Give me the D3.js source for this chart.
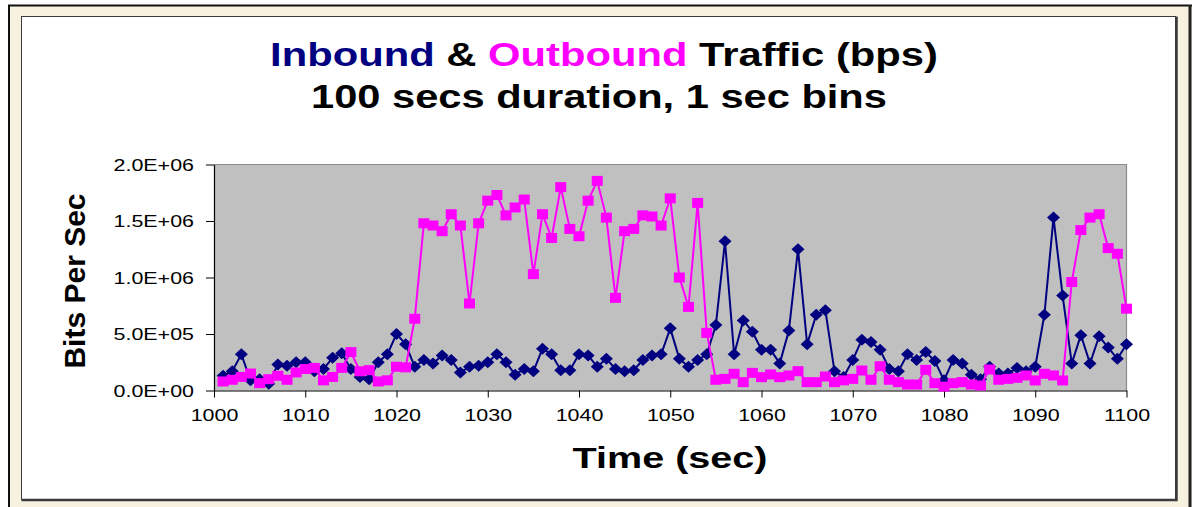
<!DOCTYPE html>
<html>
<head>
<meta charset="utf-8">
<script src="https://cdn.jsdelivr.net/npm/d3@7"></script>
<style>
  html, body { margin: 0; padding: 0; background: #fff; }
  svg { display: block; }
  text { font-family: Arial, "Liberation Sans", sans-serif; }
</style>
</head>
<body>
<svg id="chart" width="1192" height="507"></svg>
<script>
// Time of each 1-second bin
const seconds = d3.range(1001, 1101);

// Inbound traffic, bits per second
const inbound = [
  1.3e5, 1.7e5, 3.2e5, 0.9e5, 1.0e5, 0.6e5, 2.3e5, 2.2e5, 2.5e5, 2.5e5,
  1.7e5, 1.9e5, 2.9e5, 3.3e5, 1.9e5, 1.2e5, 1.0e5, 2.5e5, 3.2e5, 5.0e5,
  4.1e5, 2.1e5, 2.7e5, 2.4e5, 3.1e5, 2.7e5, 1.6e5, 2.1e5, 2.2e5, 2.5e5,
  3.2e5, 2.5e5, 1.4e5, 1.9e5, 1.7e5, 3.7e5, 3.2e5, 1.8e5, 1.8e5, 3.2e5,
  3.1e5, 2.1e5, 2.8e5, 1.9e5, 1.7e5, 1.8e5, 2.7e5, 3.1e5, 3.2e5, 5.5e5,
  2.8e5, 2.1e5, 2.7e5, 3.2e5, 5.8e5, 1.32e6, 3.2e5, 6.2e5, 5.2e5, 3.6e5,
  3.6e5, 2.4e5, 5.3e5, 1.25e6, 4.1e5, 6.7e5, 7.1e5, 1.7e5, 1.2e5, 2.7e5,
  4.5e5, 4.3e5, 3.6e5, 1.9e5, 1.7e5, 3.2e5, 2.7e5, 3.4e5, 2.6e5, 0.9e5,
  2.7e5, 2.4e5, 1.4e5, 1.0e5, 2.1e5, 1.5e5, 1.5e5, 2.0e5, 1.7e5, 2.1e5,
  6.7e5, 1.53e6, 8.4e5, 2.4e5, 4.9e5, 2.4e5, 4.8e5, 3.8e5, 2.8e5, 4.1e5
];

// Outbound traffic, bits per second
const outbound = [
  0.8e5, 0.95e5, 1.2e5, 1.5e5, 0.65e5, 1.0e5, 1.3e5, 0.95e5, 1.6e5, 1.9e5,
  2.0e5, 0.9e5, 1.2e5, 2.0e5, 3.4e5, 1.7e5, 1.8e5, 0.8e5, 0.9e5, 2.1e5,
  2.05e5, 6.35e5, 1.48e6, 1.46e6, 1.41e6, 1.56e6, 1.46e6, 7.7e5, 1.48e6, 1.68e6,
  1.73e6, 1.55e6, 1.62e6, 1.69e6, 1.03e6, 1.56e6, 1.35e6, 1.80e6, 1.43e6, 1.365e6,
  1.68e6, 1.855e6, 1.53e6, 8.2e5, 1.41e6, 1.43e6, 1.55e6, 1.54e6, 1.46e6, 1.70e6,
  1.0e6, 7.4e5, 1.66e6, 5.1e5, 0.95e5, 1.03e5, 1.48e5, 0.74e5, 1.56e5, 1.18e5,
  1.42e5, 1.18e5, 1.33e5, 1.71e5, 0.74e5, 0.74e5, 1.24e5, 0.74e5, 0.9e5, 1.03e5,
  1.77e5, 0.95e5, 2.15e5, 0.95e5, 0.74e5, 0.53e5, 0.53e5, 1.83e5, 0.65e5, 0.35e5,
  0.65e5, 0.74e5, 0.53e5, 0.44e5, 1.86e5, 0.95e5, 1.03e5, 1.12e5, 1.33e5, 0.89e5,
  1.48e5, 1.33e5, 0.89e5, 9.6e5, 1.42e6, 1.53e6, 1.56e6, 1.26e6, 1.21e6, 7.24e5
];

const xTickValues = d3.range(1000, 1101, 10);
const yTickValues = [0, 5e5, 1e6, 1.5e6, 2e6];

const titleParts = [
  { text: "Inbound", color: "#000080" },
  { text: " & ", color: "#000000" },
  { text: "Outbound", color: "#ff00ff" },
  { text: " Traffic (bps)", color: "#000000" }
];
const subtitle = "100 secs duration, 1 sec bins";
const xTitle = "Time (sec)";
const yTitle = "Bits Per Sec";

const W = 1192, H = 507;
const plot = { left: 214, right: 1126.5, top: 164.5, bottom: 390.5 };
const svg = d3.select("#chart");

// ---- slide frame ----
svg.append("rect").attr("width", W).attr("height", H).attr("fill", "#ffffff");
svg.append("rect").attr("x", 9).attr("y", 5).attr("width", W - 9).attr("height", H - 5)
  .attr("fill", "#f7f1df");
svg.append("path").attr("d", `M9,${H} V5.5 H${W}`)
  .attr("fill", "none").attr("stroke", "#111").attr("stroke-width", 2);
svg.append("line").attr("x1", 1190).attr("x2", 1190).attr("y1", 5).attr("y2", H)
  .attr("stroke", "#222").attr("stroke-width", 3);

// white chart panel with a darker lower/right edge
svg.append("rect").attr("x", 21.5).attr("y", 16.5).attr("width", 1154).attr("height", 483)
  .attr("fill", "#ffffff").attr("stroke", "#3a3a3a").attr("stroke-width", 1);
svg.append("path").attr("d", "M21.5,500 H1176.5 V16.5")
  .attr("fill", "none").attr("stroke", "#3a3a3a").attr("stroke-width", 2.5);

// ---- scales ----
const x = d3.scaleLinear().domain([1000, 1100]).range([plot.left, plot.right]);
const y = d3.scaleLinear().domain([0, 2e6]).range([plot.bottom, plot.top]);

// plot background
svg.append("rect")
  .attr("x", plot.left).attr("y", plot.top)
  .attr("width", plot.right - plot.left).attr("height", plot.bottom - plot.top)
  .attr("fill", "#c0c0c0");
svg.append("path")
  .attr("d", `M${plot.left},${plot.top} H${plot.right} V${plot.bottom}`)
  .attr("fill", "none").attr("stroke", "#8a8a8a").attr("stroke-width", 1.2);

// exponent-style tick labels like 1.5E+06
const sci = v => {
  if (v === 0) return "0.0E+00";
  const e = Math.floor(Math.log10(v));
  const m = v / Math.pow(10, e);
  return m.toFixed(1) + "E+" + String(e).padStart(2, "0");
};

const TICK_SX = 1.3;

const yAxis = svg.append("g")
  .attr("transform", `translate(${plot.left},0)`)
  .call(d3.axisLeft(y).tickValues(yTickValues).tickFormat(sci).tickSize(8).tickSizeOuter(0));
yAxis.select(".domain").attr("stroke", "#000").attr("stroke-width", 1.2);
yAxis.selectAll(".tick line").attr("stroke", "#000");
yAxis.selectAll(".tick text")
  .attr("x", 0).attr("dy", "0.36em")
  .attr("transform", `translate(-20,0) scale(${TICK_SX},1)`)
  .attr("font-size", 16.5).attr("fill", "#000")
  .attr("font-family", "Arial, 'Liberation Sans', sans-serif");

const xAxis = svg.append("g")
  .attr("transform", `translate(0,${plot.bottom})`)
  .call(d3.axisBottom(x).tickValues(xTickValues).tickFormat(d3.format("d")).tickSize(7).tickSizeOuter(0));
xAxis.select(".domain").attr("stroke", "#000").attr("stroke-width", 1.2);
xAxis.selectAll(".tick line").attr("stroke", "#000");
xAxis.selectAll(".tick text")
  .attr("y", 0).attr("dy", 0)
  .attr("transform", `translate(0,30.5) scale(${TICK_SX},1)`)
  .attr("font-size", 16.5).attr("fill", "#000")
  .attr("font-family", "Arial, 'Liberation Sans', sans-serif");

// ---- series ----
const series = [
  { values: inbound, color: "#000080", marker: "M0,-6 L6.5,0 L0,6 L-6.5,0 Z" },
  { values: outbound, color: "#ff00ff", marker: "M-5.5,-5 H5.5 V5 H-5.5 Z" }
];

const line = d3.line().x(d => x(d[0])).y(d => y(d[1]));

series.forEach(s => {
  const pts = seconds.map((t, i) => [t, s.values[i]]);
  const g = svg.append("g");
  g.append("path").datum(pts)
    .attr("d", line)
    .attr("fill", "none").attr("stroke", s.color)
    .attr("stroke-width", 2).attr("stroke-linejoin", "round");
  g.selectAll("path.mk").data(pts).join("path")
    .attr("class", "mk")
    .attr("d", s.marker)
    .attr("transform", d => `translate(${x(d[0])},${y(d[1])})`)
    .attr("fill", s.color);
});

// ---- titles ----
// stretch a text horizontally so that it spans the given width
function fitWidth(sel, cx, baseline, width) {
  const len = sel.node().getComputedTextLength();
  sel.attr("transform", `translate(${cx},${baseline}) scale(${width / len},1)`);
}

const t1 = svg.append("text")
  .attr("text-anchor", "middle").attr("font-size", 33).attr("font-weight", "bold");
titleParts.forEach(p => t1.append("tspan").attr("fill", p.color).text(p.text));
fitWidth(t1, 604, 66, 668);

const t2 = svg.append("text")
  .attr("text-anchor", "middle").attr("font-size", 33).attr("font-weight", "bold")
  .attr("fill", "#000").text(subtitle);
fitWidth(t2, 599, 108, 576);

const xt = svg.append("text")
  .attr("text-anchor", "middle").attr("font-size", 30).attr("font-weight", "bold")
  .attr("fill", "#000").text(xTitle);
fitWidth(xt, 670, 468, 195);

svg.append("text")
  .attr("text-anchor", "middle").attr("font-size", 30).attr("font-weight", "bold")
  .attr("fill", "#000")
  .attr("transform", "translate(85,281) rotate(-90)")
  .text(yTitle);
</script>
</body>
</html>
